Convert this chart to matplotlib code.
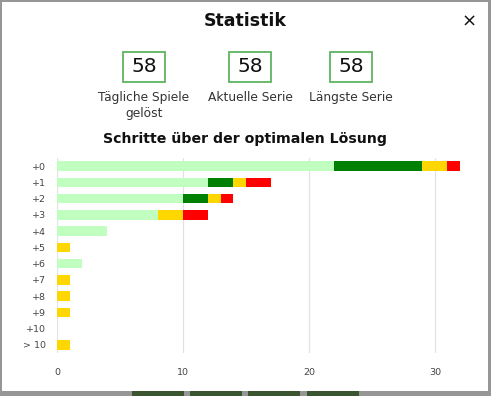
import matplotlib
matplotlib.use("Agg")
import matplotlib.pyplot as plt
from matplotlib.patches import Rectangle
import numpy as np

# Data
STEP_LABELS = ["+0", "+1", "+2", "+3", "+4", "+5", "+6", "+7", "+8", "+9", "+10", "> 10"]
light_green = [22, 12, 10, 8, 4, 0, 2, 0, 0, 0, 0, 0]
dark_green = [7, 2, 2, 0, 0, 0, 0, 0, 0, 0, 0, 0]
yellow = [2, 1, 1, 2, 0, 1, 0, 1, 1, 1, 0, 1]
red = [1, 2, 1, 2, 0, 0, 0, 0, 0, 0, 0, 0]
SERIES_COLORS = ["#c0ffc0", "#008000", "#ffd700", "#ff0000"]

STAT_VALUES = ["58", "58", "58"]
STAT_LABELS = ["Tägliche Spiele\ngelöst", "Aktuelle Serie", "Längste Serie"]
X_TICKS = [0, 10, 20, 30]

W, H = 491, 396
plt.rcParams["font.family"] = ["DejaVu Sans"]

fig = plt.figure(figsize=(W / 100, H / 100), dpi=100)
fig.patch.set_facecolor("#969696")


def px(x, y):
    # pixel coords (top-left origin) -> figure fraction
    return x / W, 1 - y / H


# background blocks peeking below the modal
for x0 in [132, 190, 248, 307]:
    fig.patches.append(Rectangle(px(x0, 396), 52 / W, 5 / H, transform=fig.transFigure,
                                 facecolor="#3b5530", edgecolor="none", zorder=0))

# modal
fig.patches.append(Rectangle(px(2, 391), 486 / W, 389 / H, transform=fig.transFigure,
                             facecolor="white", edgecolor="none", zorder=1))

fig.text(*px(245, 21), "Statistik", ha="center", va="center",
         fontsize=12.5, fontweight="bold", color="#111111")
fig.text(*px(469, 22), "×", ha="center", va="center", fontsize=13, color="#111111")

box_centers = [144, 250, 351]
for cx, val, lab in zip(box_centers, STAT_VALUES, STAT_LABELS):
    fig.patches.append(Rectangle(px(cx - 21, 82), 42 / W, 30 / H, transform=fig.transFigure,
                                 facecolor="white", edgecolor="#5fb35f", linewidth=1.3, zorder=2))
    fig.text(*px(cx, 67), val, ha="center", va="center", fontsize=14.5,
             color="#111111", zorder=3)
    fig.text(*px(cx, 91), lab, ha="center", va="top", fontsize=8.8,
             color="#333333", linespacing=1.25, zorder=3)

fig.text(*px(245, 139), "Schritte über der optimalen Lösung", ha="center", va="center",
         fontsize=10.2, fontweight="bold", color="#111111")

# chart
left, bottom = px(57, 353)
right, top = px(460, 158)
ax = fig.add_axes([left, bottom, right - left, top - bottom])
ax.set_facecolor("none")
ax.set_zorder(5)

y = np.arange(len(STEP_LABELS))
start = np.zeros(len(STEP_LABELS))
for vals, col in zip([light_green, dark_green, yellow, red], SERIES_COLORS):
    vals = np.array(vals, dtype=float)
    ax.barh(y, vals, left=start, height=0.58, color=col, zorder=2)
    start += vals

ax.set_ylim(len(STEP_LABELS) - 0.5, -0.5)
ax.set_xlim(0, 32)
ax.set_yticks(y, labels=STEP_LABELS)
ax.set_xticks(X_TICKS)
ax.tick_params(axis="y", length=0, pad=8, labelsize=6.8, labelcolor="#444444")
ax.tick_params(axis="x", length=0, pad=11, labelsize=6.8, labelcolor="#444444")
for s in ax.spines.values():
    s.set_visible(False)
ax.grid(axis="x", color="#e2e2e2", linewidth=0.9, zorder=0)
ax.set_axisbelow(True)

fig.savefig("out.png", dpi=100, facecolor=fig.get_facecolor())
